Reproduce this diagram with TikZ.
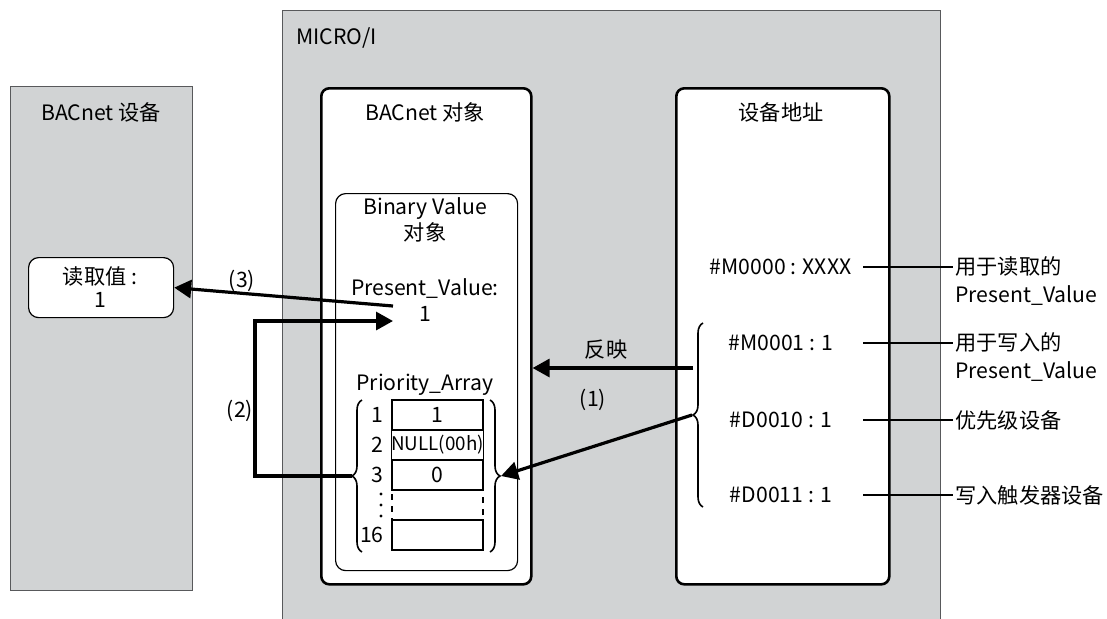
\documentclass[tikz,border=0pt]{standalone}
\usepackage{fontspec}
\setmainfont{Noto Sans CJK SC}
\usetikzlibrary{arrows.meta,positioning,decorations.pathreplacing,calc}
\definecolor{panelgray}{RGB}{209,211,212}
\definecolor{edgegray}{RGB}{88,89,91}

\begin{document}
\begin{tikzpicture}[x=0.5pt, y=-0.5pt,
  txt/.style={font=\fontsize{10.6}{13}\selectfont, inner sep=1pt, align=center},
  panel/.style={draw=edgegray, fill=panelgray, line width=0.6pt, anchor=north west, inner sep=0pt},
  objbox/.style={draw=black, fill=white, line width=1.3pt, rounded corners=4pt, anchor=north west, inner sep=0pt},
  subbox/.style={draw=black, fill=white, line width=0.6pt, rounded corners=5pt, anchor=north west, inner sep=0pt},
  cell/.style={draw=black, line width=0.6pt, minimum width=45.5pt, minimum height=15pt,
               inner sep=0pt, outer sep=0pt, font=\fontsize{10.6}{11}\selectfont},
  addr/.style={txt, minimum width=82pt},
  note/.style={txt, anchor=west, align=left, font=\fontsize{10.6}{14}\selectfont},
  arr/.style={-{Triangle[length=8.5pt,width=9pt]}, line width=1.6pt},
  brc/.style={decorate, decoration={brace, amplitude=5pt}, line width=0.8pt},
  lead/.style={line width=0.6pt}
]
  \useasboundingbox (0,0) rectangle (1107,618);

  \node[panel, minimum width=91pt, minimum height=252pt] (dev) at (10,86) {};
  \node[panel, minimum width=329pt, minimum height=312pt] (micro) at (282,10) {};
  \node[txt, anchor=west] (microlbl) at (294,38) {MICRO/I};
  \node[txt] (devlbl) at (101,112) {BACnet 设备};

  \node[objbox, minimum width=105pt, minimum height=248pt] (obj) at (320,87) {};
  \node[objbox, minimum width=106.5pt, minimum height=248pt] (adr) at (675,87) {};
  \node[txt] (objlbl) at (425,112) {BACnet 对象};
  \node[txt] (adrlbl) at (781,112) {设备地址};

  \node[subbox, minimum width=91pt, minimum height=188.5pt] (bv) at (335,193) {};
  \node[txt] (bvlbl) at (425,220) {Binary Value\\对象};
  \node[txt] (pv) at (425,300) {Present\_Value:\\1};
  \node[txt] (palbl) at (425,385) {Priority\_Array};

  \node[cell] (c1) at (437.5,415) {1};
  \node[cell, below=0pt of c1] (c2) {\fontsize{9.4}{10}\selectfont NULL(00h)};
  \node[cell, below=0pt of c2] (c3) {0};
  \node[cell, dashed, below=0pt of c3] (c4) {};
  \node[cell, below=0pt of c4] (c16) {};
  \node[txt, left=3pt of c1] (i1) {1};
  \node[txt, left=3pt of c2] (i2) {2};
  \node[txt, left=3pt of c3] (i3) {3};
  \node[txt, left=3pt of c16] (i16) {16};
  \foreach \dy in {-11,0,11}
    \fill ([yshift=\dy*0.5pt]c4.west) ++(-11,0) circle (0.8pt);

  \draw[brc] (362,552) -- (362,400);
  \draw[brc] (490,400) -- (490,552);
  \coordinate (lbtip) at (352,476);
  \coordinate (rbtip) at (501,476);

  \node[subbox, minimum width=72.5pt, minimum height=30pt] (rv) at (28,257) {};
  \node[txt, font=\fontsize{10.6}{11.5}\selectfont] (rvlbl) at (100,287) {读取值 :\\1};

  \node[addr, anchor=east] (m0) at (863,267) {\#M0000 : XXXX};
  \node[addr] (m1) at (781,343) {\#M0001 : 1};
  \node[addr] (d10) at (781,420) {\#D0010 : 1};
  \node[addr] (d11) at (781,495) {\#D0011 : 1};
  \draw[brc] (703,507) -- (703,323);
  \coordinate (abtip) at (692,415);
  \coordinate (refl) at (693,368);

  \node[note] (n0) at (953,281) {用于读取的\\Present\_Value};
  \node[note] (n1) at (953,357) {用于写入的\\Present\_Value};
  \node[note] (n2) at (953,420) {优先级设备};
  \node[note] (n3) at (953,495) {写入触发器设备};
  \draw[lead] (m0.east) -- (m0.east -| n0.west);
  \draw[lead] (m1.east) -- (m1.east -| n1.west);
  \draw[lead] (d10.east) -- (n2.west);
  \draw[lead] (d11.east) -- (n3.west);

  \coordinate (pvout) at (393,306);
  \coordinate (pvin) at (393,321);
  \draw[arr] (refl) -- (refl -| obj.east);
  \draw[arr] (abtip) -- (rbtip);
  \draw[arr] (lbtip) -- ++(-97,0) |- (pvin);
  \draw[arr] (pvout) -- (rv.east);

  \node[txt] (lblrefl) at (606,350) {反映};
  \node[txt] (lbl1) at (593,400) {(1)};
  \node[txt] (lbl2) at (240,411) {(2)};
  \node[txt] (lbl3) at (242,281) {(3)};
\end{tikzpicture}
\end{document}
